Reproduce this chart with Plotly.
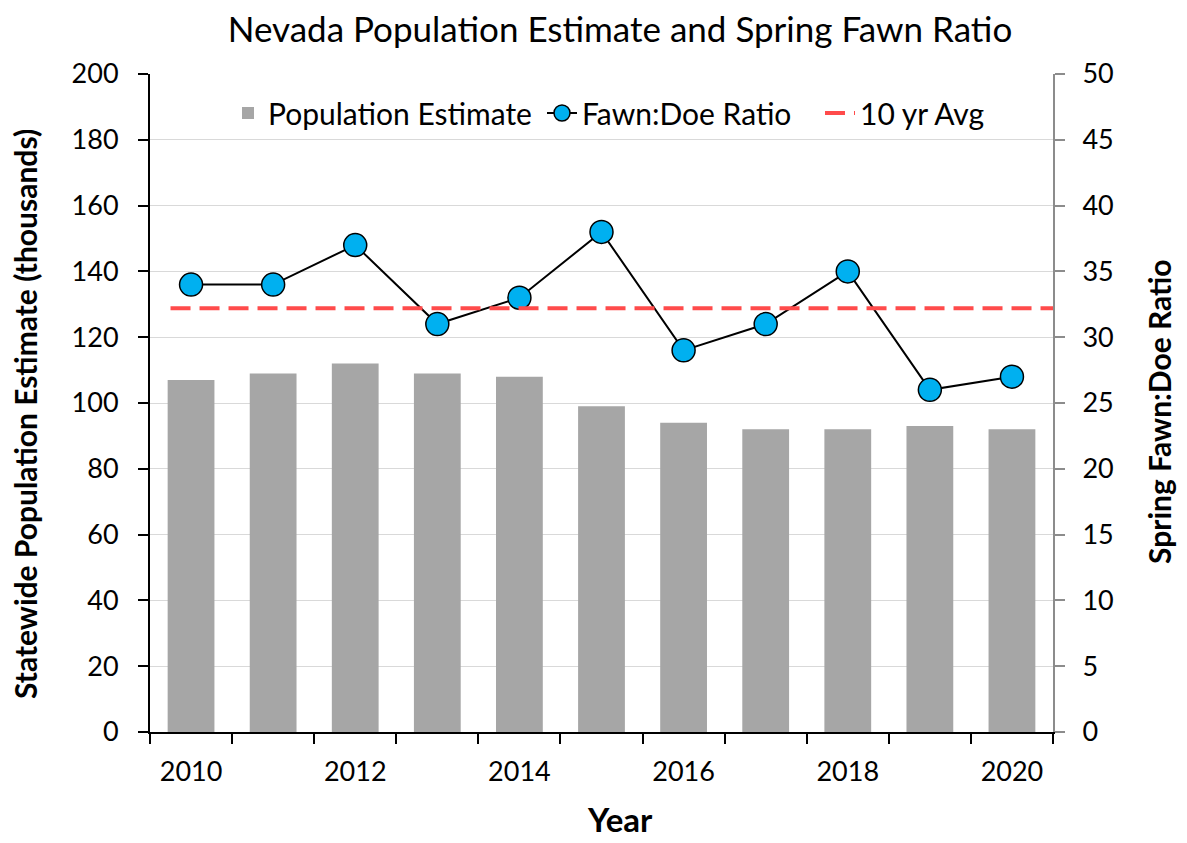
import plotly.graph_objects as go

years = [2010, 2011, 2012, 2013, 2014, 2015, 2016, 2017, 2018, 2019, 2020]
population = [107, 109, 112, 109, 108, 99, 94, 92, 92, 93, 92]
fawn_doe = [34, 34, 37, 31, 33, 38, 29, 31, 35, 26, 27]
avg_10yr = 32.2
avg_span = [2009.75, 2020.5]
year_labels = [2010, 2012, 2014, 2016, 2018, 2020]

FONT = "Lato"
# the page has an 8px body margin on every side, so the figure is made
# smaller to fit the window; positions below are page pixels, then shifted
OFF = 8
W, H = 1187 - 2 * OFF, 843 - 2 * OFF
L, T = 150 - OFF, 74 - OFF
PW, PH = 903, 658


def px(x):
    return (x - OFF - L) / PW


def py(y):
    return (T + PH - (y - OFF)) / PH


fig = go.Figure()

fig.add_trace(go.Bar(
    x=years, y=population, name="Population Estimate",
    marker=dict(color="#A6A6A6", line=dict(width=0)),
    width=0.57, yaxis="y", legend="legend",
))

fig.add_trace(go.Scatter(
    x=years, y=fawn_doe, name="Fawn:Doe Ratio", mode="lines+markers",
    line=dict(color="black", width=2),
    marker=dict(size=23, color="#00B0F0", line=dict(color="black", width=1.5)),
    yaxis="y2", legend="legend2",
))

fig.add_trace(go.Scatter(
    x=avg_span, y=[avg_10yr, avg_10yr], name="10 yr Avg", mode="lines",
    line=dict(color="#FF4B4B", width=4, dash="20px,9px"),
    yaxis="y2", legend="legend3",
))

leg = dict(orientation="h", yanchor="middle", xanchor="left",
           bgcolor="rgba(0,0,0,0)", font=dict(size=30), y=py(113))

fig.update_layout(
    width=W, height=H,
    margin=dict(l=L, r=W - L - PW, t=T, b=H - T - PH),
    paper_bgcolor="white", plot_bgcolor="white",
    font=dict(family=FONT, size=27, color="black"),
    title=dict(
        text="Nevada Population Estimate and Spring Fawn Ratio",
        x=(620 - OFF) / W, xanchor="center", y=1 - (30 - OFF) / H, yanchor="middle",
        font=dict(size=35, family=FONT),
    ),
    showlegend=True,
    legend=dict(leg, x=px(228)),
    legend2=dict(leg, x=px(542)),
    legend3=dict(leg, x=px(820)),
    xaxis=dict(
        range=[2009.5, 2020.5],
        tickvals=year_labels,
        ticks="outside", ticklen=15, tickcolor="rgba(0,0,0,0)",
        showline=True, linecolor="black", linewidth=2,
        showgrid=False, zeroline=False, automargin=False,
        minor=dict(
            tickvals=[y - 0.5 for y in years] + [years[-1] + 0.5],
            ticks="outside", ticklen=10, tickcolor="black", tickwidth=2,
            showgrid=False,
        ),
    ),
    yaxis=dict(
        range=[0, 200], dtick=20,
        showline=True, linecolor="black", linewidth=2,
        ticks="outside", ticklen=10, tickcolor="black", tickwidth=2,
        ticklabelstandoff=14, automargin=False,
        showgrid=True, gridcolor="#D9D9D9", gridwidth=1,
        zeroline=False,
    ),
    yaxis2=dict(
        range=[0, 50], dtick=5, overlaying="y", side="right",
        showline=True, linecolor="#8C8C8C", linewidth=2,
        ticks="outside", ticklen=10, tickcolor="#8C8C8C", tickwidth=2,
        ticklabelstandoff=12, automargin=False,
        showgrid=False, zeroline=False,
    ),
    annotations=[
        dict(text="<b>Statewide Population Estimate (thousands)</b>",
             xref="paper", yref="paper", x=px(25), y=py(414),
             xanchor="center", yanchor="middle", textangle=-90,
             showarrow=False, font=dict(size=30)),
        dict(text="<b>Spring Fawn:Doe Ratio</b>",
             xref="paper", yref="paper", x=px(1159), y=py(412),
             xanchor="center", yanchor="middle", textangle=-90,
             showarrow=False, font=dict(size=30)),
        dict(text="<b>Year</b>",
             xref="paper", yref="paper", x=px(620), y=py(819),
             xanchor="center", yanchor="middle",
             showarrow=False, font=dict(size=33)),
    ],
)

fig.write_html("out.html")
